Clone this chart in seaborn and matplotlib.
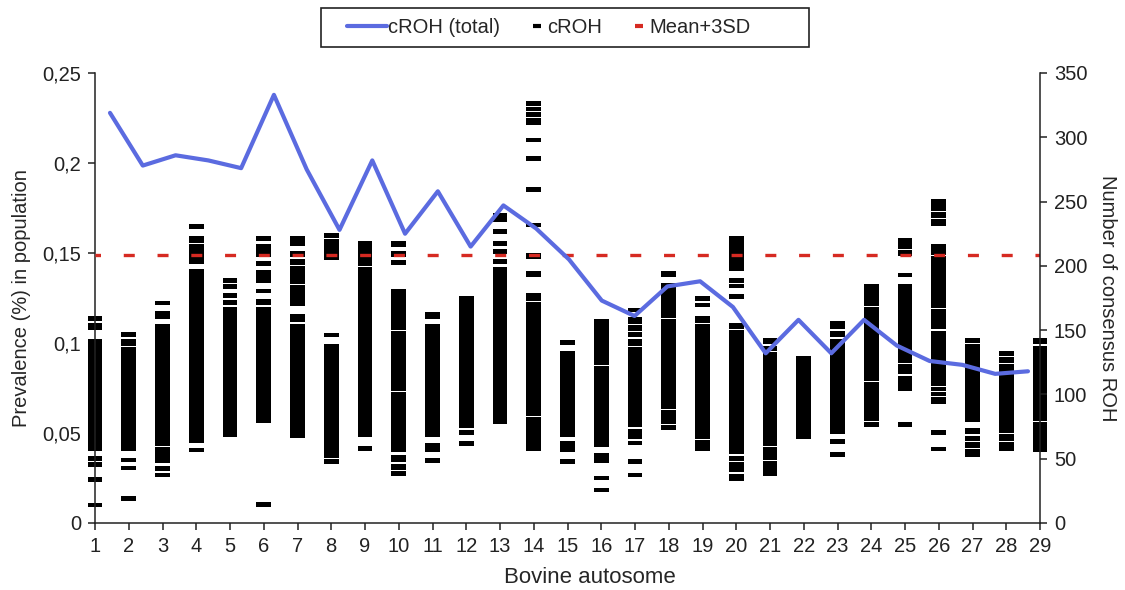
import numpy as np
import pandas as pd
import matplotlib
matplotlib.use("Agg")
import matplotlib.pyplot as plt
from matplotlib.lines import Line2D
from matplotlib.patches import Rectangle
from matplotlib.legend_handler import HandlerLine2D
from matplotlib.ticker import FuncFormatter
import seaborn as sns

# chromosome numbers (bovine autosomes)
chromosomes = list(range(1, 30))

# total number of consensus ROH per chromosome (right axis)
croh_total = [319, 278, 286, 282, 276, 333, 275, 228, 282, 225,
              258, 215, 247, 229, 205, 173, 161, 184, 188, 168,
              132, 158, 132, 158, 138, 126, 123, 116, 118]

# prevalence of each cROH, stacked per chromosome as (low, high) runs;
# a run with low == high is a single cROH dash
croh_runs = [
    [(0.1076, 0.1105), (0.1125, 0.1148), (0.0406, 0.1020), (0.0350, 0.0370), (0.0313, 0.0335), (0.0243, 0.0243), (0.0100, 0.0100)],
    [(0.1036, 0.1057), (0.0990, 0.1018), (0.0406, 0.0972), (0.0350, 0.0350), (0.0306, 0.0306), (0.0137, 0.0137)],
    [(0.1218, 0.1226), (0.1135, 0.1175), (0.0430, 0.1101), (0.0335, 0.0418), (0.0304, 0.0304), (0.0267, 0.0267)],
    [(0.1646, 0.1646), (0.1560, 0.1591), (0.1443, 0.1548), (0.1300, 0.1405), (0.1215, 0.1288), (0.0450, 0.1205), (0.0406, 0.0406)],
    [(0.1345, 0.1352), (0.1310, 0.1318), (0.1255, 0.1275), (0.1215, 0.1235), (0.0480, 0.1195)],
    [(0.1581, 0.1581), (0.1484, 0.1545), (0.1443, 0.1443), (0.1340, 0.1404), (0.1289, 0.1289), (0.1213, 0.1243), (0.0560, 0.1194), (0.0104, 0.0104)],
    [(0.1545, 0.1590), (0.1480, 0.1505), (0.1435, 0.1465), (0.1390, 0.1425), (0.1330, 0.1380), (0.1210, 0.1320), (0.1118, 0.1157), (0.0474, 0.1100)],
    [(0.1585, 0.1605), (0.1545, 0.1575), (0.1500, 0.1535), (0.1465, 0.1490), (0.1038, 0.1052), (0.0365, 0.0989), (0.0331, 0.0352)],
    [(0.1540, 0.1563), (0.1430, 0.1530), (0.1355, 0.1420), (0.1290, 0.1345), (0.0520, 0.1280), (0.0480, 0.0510), (0.0415, 0.0415)],
    [(0.1540, 0.1563), (0.1480, 0.1507), (0.1443, 0.1455), (0.1170, 0.1294), (0.1075, 0.1160), (0.0890, 0.1065), (0.0735, 0.0880), (0.0400, 0.0725), (0.0345, 0.0375), (0.0300, 0.0325), (0.0267, 0.0280)],
    [(0.1135, 0.1169), (0.1040, 0.1100), (0.0480, 0.1028), (0.0400, 0.0443), (0.0345, 0.0350)],
    [(0.0530, 0.1257), (0.0498, 0.0505), (0.0443, 0.0443)],
    [(0.1675, 0.1720), (0.1618, 0.1618), (0.1554, 0.1554), (0.1500, 0.1515), (0.1445, 0.1460), (0.0554, 0.1420)],
    [(0.2320, 0.2338), (0.2293, 0.2307), (0.2263, 0.2278), (0.2214, 0.2246), (0.2128, 0.2128), (0.2026, 0.2026), (0.1854, 0.1854), (0.1656, 0.1656),
     (0.1472, 0.1496), (0.1372, 0.1394), (0.1238, 0.1276), (0.1200, 0.1225), (0.1172, 0.1190), (0.1145, 0.1163), (0.0600, 0.1133), (0.0406, 0.0585)],
    [(0.0995, 0.1007), (0.0480, 0.0952), (0.0400, 0.0450), (0.0340, 0.0340)],
    [(0.1095, 0.1128), (0.0955, 0.1085), (0.0880, 0.0945), (0.0424, 0.0870), (0.0335, 0.0385), (0.0250, 0.0250), (0.0183, 0.0183)],
    [(0.1183, 0.1183), (0.1110, 0.1139), (0.1072, 0.1095), (0.1035, 0.1058), (0.0990, 0.1020), (0.0535, 0.0975), (0.0509, 0.0509), (0.0478, 0.0485), (0.0440, 0.0448), (0.0341, 0.0341), (0.0267, 0.0267)],
    [(0.1370, 0.1396), (0.1145, 0.1331), (0.0700, 0.1130), (0.0635, 0.0688), (0.0590, 0.0622), (0.0555, 0.0578), (0.0531, 0.0531)],
    [(0.1248, 0.1248), (0.1211, 0.1211), (0.1115, 0.1146), (0.0470, 0.1100), (0.0406, 0.0455)],
    [(0.1406, 0.1591), (0.1340, 0.1352), (0.1313, 0.1322), (0.1257, 0.1257), (0.1082, 0.1109), (0.0388, 0.1070), (0.0350, 0.0370), (0.0320, 0.0333), (0.0285, 0.0306), (0.0239, 0.0268)],
    [(0.1000, 0.1026), (0.0960, 0.0981), (0.0430, 0.0948), (0.0390, 0.0420), (0.0352, 0.0378), (0.0267, 0.0342)],
    [(0.0470, 0.0924)],
    [(0.1082, 0.1119), (0.1035, 0.1065), (0.0498, 0.1020), (0.0452, 0.0452), (0.0380, 0.0380)],
    [(0.1210, 0.1322), (0.0793, 0.1195), (0.0570, 0.0778), (0.0535, 0.0556)],
    [(0.1560, 0.1581), (0.1527, 0.1550), (0.1489, 0.1515), (0.1378, 0.1378), (0.0895, 0.1322), (0.0830, 0.0880), (0.0739, 0.0815), (0.0548, 0.0548)],
    [(0.1772, 0.1794), (0.1735, 0.1760), (0.1698, 0.1722), (0.1656, 0.1685), (0.1495, 0.1544), (0.1200, 0.1482), (0.1080, 0.1185),
     (0.0765, 0.1065), (0.0738, 0.0750), (0.0710, 0.0723), (0.0665, 0.0695), (0.0502, 0.0502), (0.0411, 0.0411)],
    [(0.1007, 0.1020), (0.0563, 0.0992), (0.0497, 0.0526), (0.0460, 0.0482), (0.0423, 0.0445), (0.0369, 0.0408)],
    [(0.0932, 0.0952), (0.0895, 0.0917), (0.0505, 0.0880), (0.0460, 0.0490), (0.0406, 0.0445)],
    [(0.0997, 0.1026), (0.0570, 0.0982), (0.0396, 0.0555)],
]

# Mean + 3SD threshold of prevalence
threshold = 0.149

left_ticks = [0, 0.05, 0.1, 0.15, 0.2, 0.25]
right_ticks = [0, 50, 100, 150, 200, 250, 300, 350]

BLUE = "#5b6be0"
RED = "#d62a22"
DASH_THICK = 0.0018  # minimum thickness of a cROH dash (prevalence units)
EDGE = 0.0004        # extra overlap so the white separators stay thin


class RightMarker(HandlerLine2D):
    """Legend handler that puts the marker near the right end of the handle."""
    def get_xdata(self, legend, xdescent, ydescent, width, height, fontsize):
        x = np.array([-xdescent + 0.6 * width, -xdescent + 0.9 * width])
        return x, x


sns.set_style("white")
plt.rcParams["font.family"] = ["Liberation Sans", "DejaVu Sans"]
plt.rcParams["font.size"] = 14.5
plt.rcParams["axes.edgecolor"] = "#222222"
plt.rcParams["xtick.color"] = "#222222"
plt.rcParams["ytick.color"] = "#222222"

runs_df = pd.DataFrame(
    [(c, lo, hi) for c, runs in zip(chromosomes, croh_runs) for lo, hi in runs],
    columns=["chrom", "low", "high"],
)
# short runs are padded so every dash has a visible thickness
pad = np.maximum(0, (DASH_THICK - (runs_df["high"] - runs_df["low"])) / 2) + EDGE
runs_df["bottom"] = runs_df["low"] - pad
runs_df["top"] = runs_df["high"] + pad

total_df = pd.DataFrame({"chrom": chromosomes, "total": croh_total})

fig = plt.figure(figsize=(11.25, 5.9), dpi=100)
rect = [95 / 1125, 1 - 523 / 590, 945 / 1125, 450 / 590]
ax = fig.add_axes(rect)

# stacked cROH dashes
ax.bar(runs_df["chrom"], runs_df["top"] - runs_df["bottom"],
       bottom=runs_df["bottom"], width=0.44,
       color="black", linewidth=0, clip_on=False, zorder=2)

# Mean+3SD line, one dash centred on each chromosome
ax.plot([1, 29], [threshold, threshold], color=RED, lw=2.4,
        linestyle=(1.65, (3.3, 6.83)), zorder=3)

ax.set_xlim(1, 29)
ax.set_ylim(0, 0.25)
ax.set_xticks(chromosomes)
ax.set_yticks(left_ticks)
ax.yaxis.set_major_formatter(FuncFormatter(lambda v, p: f"{v:g}".replace(".", ",")))
ax.tick_params(axis="both", direction="out", length=5, width=1.1, pad=5,
               left=True, bottom=True, labelsize=14.5)
ax.set_xlabel("Bovine autosome", fontsize=16)
ax.xaxis.set_label_coords((590 - 95) / 945, -0.097)
ax.set_ylabel("Prevalence (%) in population", fontsize=14.5, labelpad=8)
for side in ["top", "right"]:
    ax.spines[side].set_visible(False)
for side in ["left", "bottom"]:
    ax.spines[side].set_linewidth(1.1)

# total cROH line, on its own (secondary) category axis
ax2 = fig.add_axes(rect)
ax2.patch.set_visible(False)
sns.lineplot(data=total_df, x="chrom", y="total", color=BLUE, lw=3, ax=ax2,
             zorder=4)
ax2.set_xlim(0.5425, 29.367)
ax2.set_ylim(0, 350)
ax2.set_yticks(right_ticks)
ax2.xaxis.set_visible(False)
ax2.yaxis.tick_right()
ax2.yaxis.set_label_position("right")
ax2.tick_params(axis="y", direction="out", length=5, width=1.1, pad=5,
                right=True, labelsize=14.5)
ax2.set_ylabel("Number of consensus ROH", rotation=270, va="bottom",
               fontsize=14.5, labelpad=8)
for side in ["top", "left", "bottom"]:
    ax2.spines[side].set_visible(False)
ax2.spines["right"].set_linewidth(1.1)

# legend (frame drawn separately so its padding matches the original box)
handles = [
    Line2D([], [], color=BLUE, lw=3),
    Line2D([], [], color="black", marker="_", linestyle="none",
           markersize=5.5, markeredgewidth=3),
    Line2D([], [], color=RED, marker="_", linestyle="none",
           markersize=5.5, markeredgewidth=3),
]
fig.legend(handles, ["cROH (total)", "cROH", "Mean+3SD"],
           loc="center left", bbox_to_anchor=(347 / 1125, 1 - 27.5 / 590),
           ncol=3, frameon=False, borderpad=0, borderaxespad=0,
           handlelength=2.0, handletextpad=0.05, columnspacing=0.3,
           fontsize=14.5,
           handler_map={handles[1]: RightMarker(), handles[2]: RightMarker()})
fig.patches.append(Rectangle((321 / 1125, 1 - 47 / 590), 488 / 1125, 39 / 590,
                             transform=fig.transFigure, fill=False,
                             edgecolor="#222222", linewidth=1.2))

fig.savefig("out.png", dpi=100)
